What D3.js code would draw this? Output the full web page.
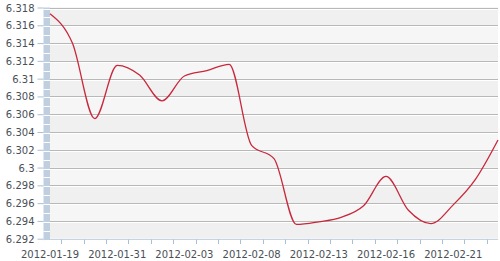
<!DOCTYPE html>
<meta charset="utf-8">
<style>
body { margin: 0; background: #fff; }
svg text { font-family: "DejaVu Sans", Verdana, sans-serif; font-size: 10px; fill: #4a4f57; }
</style>
<body>
<script src="https://cdn.jsdelivr.net/npm/d3@7"></script>
<script>

var width = 500,
    height = 261;

var dates = ["2012-01-19", "2012-01-20", "2012-01-30", "2012-01-31", "2012-02-01",
  "2012-02-02", "2012-02-03", "2012-02-06", "2012-02-07", "2012-02-08", "2012-02-09",
  "2012-02-10", "2012-02-13", "2012-02-14", "2012-02-15", "2012-02-16", "2012-02-17",
  "2012-02-20", "2012-02-21", "2012-02-22", "2012-02-23"];

var rates = [6.3173, 6.3140, 6.3055, 6.3115, 6.3104, 6.3075, 6.3103, 6.3109, 6.3116,
  6.3025, 6.3010, 6.2936, 6.2939, 6.2944, 6.2957, 6.2990, 6.2952, 6.2937, 6.2958,
  6.2987, 6.3031];

var yTicks = [6.292, 6.294, 6.296, 6.298, 6.3, 6.302, 6.304, 6.306, 6.308, 6.31,
  6.312, 6.314, 6.316, 6.318];

var labelEvery = 3;

var plotLeft = 50, plotRight = 498, plotTop = 7.5, plotBottom = 238.7;

var x = d3.scalePoint()
    .domain(dates)
    .range([plotLeft, plotRight]);

var y = d3.scaleLinear()
    .domain([6.292, 6.318])
    .range([plotBottom, plotTop]);

var svg = d3.select("body").append("svg")
    .attr("width", width)
    .attr("height", height);

// alternating bands
var bands = d3.range(yTicks.length - 1);
svg.selectAll(".band")
    .data(bands)
  .enter().append("rect")
    .attr("x", plotLeft)
    .attr("width", plotRight - plotLeft)
    .attr("y", function(i) { return y(yTicks[i + 1]); })
    .attr("height", function(i) { return y(yTicks[i]) - y(yTicks[i + 1]); })
    .style("fill", function(i) { return i % 2 ? "#f6f6f6" : "#f0f0f0"; });

// grid lines with white highlight
svg.selectAll(".grid")
    .data(yTicks)
  .enter().append("line")
    .attr("x1", plotLeft).attr("x2", plotRight)
    .attr("y1", function(d) { return Math.round(y(d)) + 0.5; })
    .attr("y2", function(d) { return Math.round(y(d)) + 0.5; })
    .style("stroke", "#b8b8b8");

svg.selectAll(".gridhi")
    .data(yTicks)
  .enter().append("line")
    .attr("x1", plotLeft).attr("x2", plotRight)
    .attr("y1", function(d) { return Math.round(y(d)) + 1.5; })
    .attr("y2", function(d) { return Math.round(y(d)) + 1.5; })
    .style("stroke", "#ffffff");

// striped bar on the left
svg.append("rect")
    .attr("x", 43.5)
    .attr("y", plotTop)
    .attr("width", 6.5)
    .attr("height", plotBottom - plotTop + 2)
    .style("fill", "#bfcfe0");

var halfSteps = d3.range(yTicks.length * 2 - 1).map(function(i) { return 6.292 + i * 0.001; });
svg.selectAll(".stripe")
    .data(halfSteps)
  .enter().append("line")
    .attr("x1", 43.5).attr("x2", 50)
    .attr("y1", function(d) { return Math.round(y(d)) + 1.5; })
    .attr("y2", function(d) { return Math.round(y(d)) + 1.5; })
    .style("stroke", "#ffffff");

// y axis
var yAxis = svg.append("g")
    .attr("transform", "translate(43.5,0)")
    .call(d3.axisLeft(y).tickValues(yTicks).tickSize(6).tickPadding(3)
      .tickFormat(function(d) { return +d.toFixed(3); }));
yAxis.select(".domain").remove();
yAxis.selectAll(".tick line").style("stroke", "#a9bfd6");
yAxis.selectAll(".tick text").attr("dy", "0.35em");

// x axis: ticks between categories
var step = x.step();
var bounds = dates.slice(0, -1).map(function(d) { return x(d) + step / 2; });

svg.append("line")
    .attr("x1", plotLeft).attr("x2", plotRight)
    .attr("y1", 239.5).attr("y2", 239.5)
    .style("stroke", "#c5d3e2");

svg.selectAll(".xtick")
    .data(bounds)
  .enter().append("line")
    .attr("x1", function(d) { return Math.round(d) + 0.5; })
    .attr("x2", function(d) { return Math.round(d) + 0.5; })
    .attr("y1", 239.5).attr("y2", 244)
    .style("stroke", "#a9bfd6");

svg.selectAll(".xlabel")
    .data(dates.filter(function(d, i) { return i % labelEvery === 0; }))
  .enter().append("text")
    .attr("x", function(d) { return x(d); })
    .attr("y", 258)
    .attr("text-anchor", "middle")
    .text(function(d) { return d; });

// rate line
var line = d3.line()
    .x(function(d, i) { return x(dates[i]); })
    .y(function(d) { return y(d); })
    .curve(d3.curveMonotoneX);

svg.append("path")
    .datum(rates)
    .attr("d", line)
    .style("fill", "none")
    .style("stroke", "#c8283c")
    .style("stroke-width", 1.3);

</script>
